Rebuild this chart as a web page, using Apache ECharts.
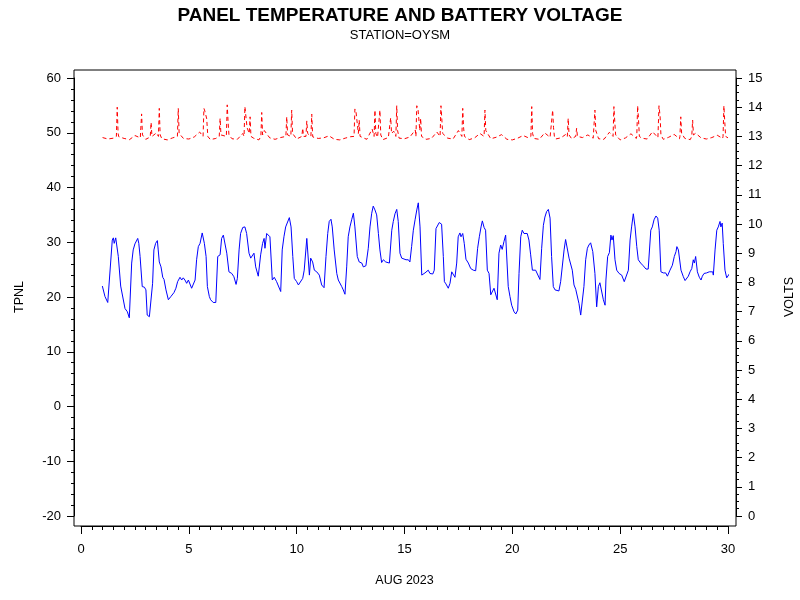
<!DOCTYPE html>
<html>
<head>
<meta charset="utf-8">
<script src="https://cdn.jsdelivr.net/npm/echarts@6/dist/echarts.min.js"></script>
<style>html,body{margin:0;padding:0;background:#fff}#c{width:800px;height:600px}</style>
</head>
<body>
<div id="c"></div>
<script>
// ---- Data ----
const xTickLabels = [0, 5, 10, 15, 20, 25, 30];
const tpnlTickLabels = [-20, -10, 0, 10, 20, 30, 40, 50, 60];
const voltTickLabels = [0,1,2,3,4,5,6,7,8,9,10,11,12,13,14,15];

// Panel temperature: day of August 2023, TPNL
const tempDays = [0.99,1.11,1.24,1.45,1.50,1.54,1.61,1.66,1.73,1.84,1.91,2.04,2.15,2.24,2.35,2.42,2.50,2.58,2.63,2.68,2.74,2.84,2.94,3.01,3.07,3.17,3.25,3.32,3.38,3.46,3.54,3.58,3.63,3.71,3.79,3.85,3.94,4.05,4.17,4.31,4.40,4.48,4.59,4.67,4.74,4.82,4.90,4.98,5.05,5.13,5.21,5.29,5.36,5.44,5.52,5.62,5.72,5.80,5.86,5.95,6.01,6.13,6.25,6.34,6.45,6.52,6.60,6.68,6.76,6.86,6.99,7.09,7.19,7.25,7.33,7.40,7.50,7.60,7.68,7.79,7.87,7.94,8.02,8.10,8.22,8.33,8.42,8.49,8.53,8.61,8.68,8.76,8.87,8.96,9.07,9.15,9.26,9.33,9.41,9.49,9.58,9.66,9.74,9.82,9.89,10.00,10.08,10.15,10.28,10.35,10.47,10.51,10.59,10.65,10.74,10.82,10.93,11.05,11.16,11.27,11.36,11.44,11.51,11.59,11.65,11.74,11.86,11.93,12.01,12.09,12.16,12.24,12.32,12.39,12.47,12.55,12.63,12.70,12.81,12.90,13.02,13.09,13.21,13.32,13.40,13.48,13.55,13.63,13.71,13.79,13.86,13.94,14.02,14.13,14.22,14.30,14.41,14.48,14.56,14.64,14.71,14.79,14.87,14.94,15.07,15.18,15.25,15.33,15.41,15.49,15.57,15.64,15.72,15.80,15.87,15.95,16.03,16.10,16.18,16.31,16.38,16.46,16.54,16.61,16.72,16.80,16.85,16.92,17.03,17.11,17.19,17.26,17.34,17.42,17.49,17.57,17.62,17.70,17.77,17.85,17.96,18.07,18.19,18.30,18.39,18.47,18.55,18.61,18.69,18.76,18.84,18.92,19.00,19.07,19.15,19.23,19.30,19.38,19.46,19.53,19.61,19.69,19.74,19.81,19.89,19.97,20.08,20.16,20.25,20.31,20.39,20.46,20.54,20.62,20.69,20.77,20.85,20.93,21.00,21.08,21.16,21.28,21.36,21.44,21.51,21.59,21.67,21.75,21.82,21.90,21.98,22.06,22.16,22.24,22.32,22.40,22.47,22.55,22.63,22.71,22.78,22.86,22.94,23.01,23.09,23.17,23.24,23.32,23.40,23.48,23.55,23.63,23.73,23.83,23.91,23.99,24.06,24.14,24.22,24.30,24.34,24.42,24.50,24.57,24.62,24.68,24.76,24.84,24.95,25.07,25.19,25.27,25.38,25.46,25.53,25.61,25.69,25.77,25.84,25.95,26.07,26.20,26.30,26.42,26.49,26.57,26.66,26.74,26.81,26.89,27.00,27.11,27.19,27.31,27.42,27.51,27.59,27.63,27.70,27.74,27.82,27.93,28.01,28.08,28.16,28.24,28.32,28.39,28.44,28.50,28.58,28.67,28.75,28.81,28.89,29.01,29.13,29.29,29.32,29.40,29.48,29.55,29.63,29.67,29.73,29.78,29.86,29.94,30.01,30.06];
const tempVals = [22.0,20.1,19.0,30.4,30.8,29.8,30.8,30.6,27.4,22.0,21.9,17.9,17.3,16.2,26.2,28.6,29.7,29.8,30.7,29.8,27.4,21.9,21.8,21.3,16.7,16.4,16.4,22.5,28.6,29.8,30.3,28.6,26.4,25.5,23.6,23.2,21.3,19.5,20.1,20.8,21.6,22.8,23.6,23.1,23.5,23.1,22.5,23.1,23.2,21.6,21.9,23.1,26.8,29.2,29.8,31.7,29.8,27.4,21.9,20.1,19.5,19.0,19.0,27.4,27.7,30.7,31.3,31.0,28.0,24.6,24.3,23.7,22.3,23.4,28.6,31.6,32.7,32.8,31.6,28.0,27.1,27.4,28.0,25.5,23.8,27.7,29.8,30.7,28.9,31.6,31.9,31.0,23.1,23.6,22.8,22.8,21.0,28.6,31.0,32.8,33.1,34.5,32.8,27.4,23.4,22.8,22.2,22.5,23.4,24.9,30.7,30.4,24.0,27.1,26.4,24.9,24.6,24.0,22.2,21.7,27.4,31.6,33.8,34.2,32.8,28.6,24.3,23.1,22.8,21.9,21.3,20.5,25.5,31.0,32.8,34.1,35.3,32.8,27.4,26.4,26.2,25.5,25.7,28.9,32.8,35.3,36.6,35.9,35.0,31.6,28.6,26.3,26.8,26.4,26.6,26.2,32.2,33.8,35.2,36.0,33.8,28.0,27.1,26.9,26.8,26.8,26.4,29.2,32.2,34.1,35.9,37.2,32.8,24.0,24.0,24.4,24.6,24.9,24.3,24.2,24.9,32.5,32.8,33.6,33.3,27.4,22.8,22.4,21.6,22.5,24.6,24.9,23.6,26.2,31.0,31.7,31.0,31.6,29.8,26.9,26.2,25.2,24.9,24.8,28.9,31.0,32.8,33.9,32.7,32.2,24.9,24.3,20.4,20.7,21.6,21.3,19.5,28.0,29.5,28.7,30.1,31.3,31.0,21.9,20.1,18.5,17.3,16.9,17.6,24.3,31.0,32.2,31.6,31.9,31.6,30.4,27.7,24.9,24.6,24.9,24.6,23.2,28.9,33.1,34.6,35.6,36.0,34.4,27.4,21.9,21.3,21.0,21.1,22.8,23.1,28.6,30.5,30.4,27.1,26.8,24.9,22.2,21.4,21.3,18.8,16.7,16.5,21.9,26.8,28.9,29.5,29.9,28.3,24.3,18.2,21.9,22.6,22.6,19.5,18.5,23.1,27.4,28.1,31.3,30.4,31.2,26.8,24.9,24.3,24.0,22.8,22.5,24.9,30.4,32.8,35.2,32.8,29.2,26.8,26.2,25.7,25.1,25.1,32.2,32.8,34.1,34.8,34.4,32.2,24.6,24.4,24.4,23.8,24.9,25.8,27.4,28.3,29.2,28.6,28.9,24.9,23.7,23.0,23.1,23.8,24.6,25.2,26.8,26.2,27.4,24.6,23.6,23.1,23.8,24.3,24.4,24.6,24.6,24.0,28.6,32.2,32.8,33.8,32.8,33.5,29.8,24.9,23.5,23.6,24.2];

// Battery voltage: resting level readings (day, VOLTS)
const voltBaseDays = [1.00,1.25,1.50,1.75,2.00,2.25,2.50,2.75,3.00,3.25,3.50,3.75,4.00,4.25,4.50,4.75,5.00,5.25,5.50,5.75,6.00,6.25,6.50,6.75,7.00,7.25,7.50,7.75,8.00,8.25,8.50,8.75,9.00,9.25,9.50,9.75,10.00,10.25,10.50,10.75,11.00,11.25,11.50,11.75,12.00,12.25,12.50,12.75,13.00,13.25,13.50,13.75,14.00,14.25,14.50,14.75,15.00,15.25,15.50,15.75,16.00,16.25,16.50,16.75,17.00,17.25,17.50,17.75,18.00,18.25,18.50,18.75,19.00,19.25,19.50,19.75,20.00,20.25,20.50,20.75,21.00,21.25,21.50,21.75,22.00,22.25,22.50,22.75,23.00,23.25,23.50,23.75,24.00,24.25,24.50,24.75,25.00,25.25,25.50,25.75,26.00,26.25,26.50,26.75,27.00,27.25,27.50,27.75,28.00,28.25,28.50,28.75,29.00,29.25,29.50,29.75,30.00];
const voltBase = [12.96,12.91,12.94,12.99,12.93,12.89,13.03,12.95,12.90,12.97,13.12,12.92,12.88,12.95,13.06,12.93,12.91,12.98,13.15,12.94,12.89,12.93,13.04,12.96,12.92,12.90,13.10,12.97,12.94,12.88,13.20,12.95,12.90,12.96,13.08,12.93,12.91,12.89,13.05,12.98,12.93,12.95,13.02,12.90,12.88,12.94,12.99,12.92,12.95,12.90,13.25,12.97,12.89,12.96,13.18,12.94,12.92,12.98,13.22,12.95,12.90,12.93,13.15,13.02,12.94,12.91,13.20,12.96,12.89,12.95,13.10,12.93,12.92,12.97,13.06,12.90,12.88,12.94,13.03,12.95,12.93,12.90,13.12,12.97,12.91,12.95,13.08,12.92,12.89,12.96,13.05,12.94,12.92,12.90,13.14,12.97,12.88,12.95,13.09,12.93,12.94,12.91,13.16,12.96,12.90,12.97,13.07,12.92,12.93,12.89,13.11,12.95,12.91,12.96,13.04,12.93,12.95];
// Battery voltage: charging spikes (groups of day / VOLTS)
const voltSpikeDays = [[1.64,1.68,1.72],[2.77,2.81,2.85],[3.21,3.25,3.29],[3.59,3.63,3.67],[4.47,4.51,4.55],[5.66,5.70,5.75,5.83,5.88],[6.41,6.45,6.49],[6.74,6.78,6.82,6.86],[7.56,7.60,7.66,7.70,7.80,7.84,7.88],[8.34,8.38,8.42],[9.50,9.54,9.58],[9.73,9.77,9.81],[10.24,10.28,10.32],[10.43,10.47,10.51,10.66,10.70,10.74],[12.66,12.70,12.75,12.86,12.90,12.94],[13.59,13.63,13.67],[13.82,13.86,13.90],[14.32,14.36,14.40],[14.60,14.64,14.68],[15.53,15.57,15.63,15.71,15.75,15.79],[16.65,16.69,16.73,16.77],[17.66,17.70,17.74,17.78],[18.69,18.73,18.77],[20.86,20.90,20.94],[21.83,21.87,21.91,21.95],[22.55,22.59,22.63],[22.94,22.98,23.02],[23.79,23.83,23.87],[24.67,24.71,24.75,24.79],[25.77,25.81,25.85,25.89],[26.76,26.80,26.85,26.89],[27.77,27.81,27.85],[28.32,28.36,28.40],[29.77,29.81,29.85,29.89]];
const voltSpikeVals = [[13.0,14.0,13.1],[13.0,13.77,13.05],[12.98,13.48,13.0],[13.0,13.96,13.05],[13.0,13.96,13.1],[13.0,13.96,13.85,13.6,13.0],[13.0,13.62,13.05],[13.0,14.08,13.5,13.05],[13.0,14.02,14.04,13.3,13.1,13.67,13.0],[13.0,13.82,13.05],[13.0,13.67,13.05],[13.0,13.9,13.1],[13.0,13.28,13.0],[13.0,13.53,13.1,13.0,13.76,13.05],[13.0,13.94,13.85,13.1,13.56,13.0],[13.0,13.9,13.1],[13.0,13.9,13.05],[13.0,13.64,13.1],[13.0,14.05,13.2],[13.0,14.05,13.9,13.2,13.62,13.0],[13.0,14.05,13.6,13.1],[13.0,13.96,13.3,13.0],[13.0,13.9,13.2],[13.0,14.02,13.1],[13.0,13.9,13.3,13.0],[13.0,13.62,13.05],[13.0,13.28,13.0],[13.0,13.9,13.2],[13.0,14.02,13.5,13.05],[13.0,14.05,13.6,13.0],[13.0,14.05,13.7,13.05],[13.0,13.67,13.1],[13.0,13.56,13.05],[13.0,14.05,13.5,13.0]];

// ---- Build series data ----
const tempData = tempDays.map((d, i) => [d, tempVals[i]]);
const voltData = [];
voltBaseDays.forEach((d, i) => {
  const inside = voltSpikeDays.some(g => d >= g[0] - 0.001 && d <= g[g.length - 1] + 0.001);
  if (!inside) voltData.push([d, voltBase[i]]);
});
voltSpikeDays.forEach((g, gi) => g.forEach((d, j) => voltData.push([d, voltSpikeVals[gi][j]])));
voltData.sort((a, b) => a[0] - b[0]);

const FONT = 'Liberation Sans, Arial, sans-serif';
const black = '#000';

const chart = echarts.init(document.getElementById('c'), null, {renderer: 'canvas'});
chart.setOption({
  animation: false,
  backgroundColor: '#fff',
  title: [
    {text: 'PANEL TEMPERATURE AND BATTERY VOLTAGE', left: 'center', top: 1,
     textStyle: {fontFamily: FONT, fontSize: 19, fontWeight: 'bold', color: black}},
    {text: 'STATION=OYSM', left: 'center', top: 24,
     textStyle: {fontFamily: FONT, fontSize: 13, fontWeight: 'normal', color: black}}
  ],
  grid: [
    {left: 81, right: 72, top: 78, bottom: 84, show: false, containLabel: false, outerBoundsMode: 'none'},
    {left: 74, right: 64, top: 70, bottom: 74, show: true, borderColor: black, borderWidth: 1, backgroundColor: 'transparent', containLabel: false, outerBoundsMode: 'none'}
  ],
  xAxis: [
    {type: 'value', gridIndex: 0, min: xTickLabels[0], max: xTickLabels[xTickLabels.length - 1], interval: 5,
     position: 'bottom', offset: 10,
     axisLine: {show: true, onZero: false, lineStyle: {color: black, width: 1}},
     axisTick: {show: true, length: 8, lineStyle: {color: black}},
     minorTick: {show: true, splitNumber: 10, length: 4, lineStyle: {color: black}},
     splitLine: {show: false}, minorSplitLine: {show: false},
     axisLabel: {margin: 17, color: black, fontSize: 13, fontFamily: FONT},
     name: 'AUG 2023', nameLocation: 'middle', nameGap: 48,
     nameTextStyle: {color: black, fontSize: 12.5, fontFamily: FONT}},
    {type: 'value', gridIndex: 1, show: false, min: 0, max: 1}
  ],
  yAxis: [
    {type: 'value', gridIndex: 0, min: tpnlTickLabels[0], max: tpnlTickLabels[tpnlTickLabels.length - 1], interval: 10,
     position: 'left', offset: 7,
     axisLine: {show: true, onZero: false, lineStyle: {color: black, width: 1}},
     axisTick: {show: true, length: 7, lineStyle: {color: black}},
     minorTick: {show: true, splitNumber: 5, length: 3, lineStyle: {color: black}},
     splitLine: {show: false}, minorSplitLine: {show: false},
     axisLabel: {margin: 13, color: black, fontSize: 13, fontFamily: FONT},
     name: 'TPNL', nameLocation: 'middle', nameGap: 48, nameRotate: 90,
     nameTextStyle: {color: black, fontSize: 12.5, fontFamily: FONT}},
    {type: 'value', gridIndex: 0, min: voltTickLabels[0], max: voltTickLabels[voltTickLabels.length - 1], interval: 1,
     position: 'right', offset: 8,
     axisLine: {show: true, onZero: false, lineStyle: {color: black, width: 1}},
     axisTick: {show: true, length: 6, lineStyle: {color: black}},
     minorTick: {show: true, splitNumber: 4, length: 3, lineStyle: {color: black}},
     splitLine: {show: false}, minorSplitLine: {show: false},
     axisLabel: {margin: 12, color: black, fontSize: 13, fontFamily: FONT},
     name: 'VOLTS', nameLocation: 'middle', nameGap: 47, nameRotate: 90,
     nameTextStyle: {color: black, fontSize: 12.5, fontFamily: FONT}},
    {type: 'value', gridIndex: 1, show: false, min: 0, max: 1}
  ],
  series: [
    {type: 'line', name: 'TPNL', xAxisIndex: 0, yAxisIndex: 0, data: tempData,
     showSymbol: false, symbol: 'none', smooth: false,
     lineStyle: {color: '#0000ff', width: 1}},
    {type: 'line', name: 'VOLTS', xAxisIndex: 0, yAxisIndex: 1, data: voltData,
     showSymbol: false, symbol: 'none', smooth: false,
     lineStyle: {color: '#ff0000', width: 1, type: [4, 3]}}
  ]
});
</script>
</body>
</html>
